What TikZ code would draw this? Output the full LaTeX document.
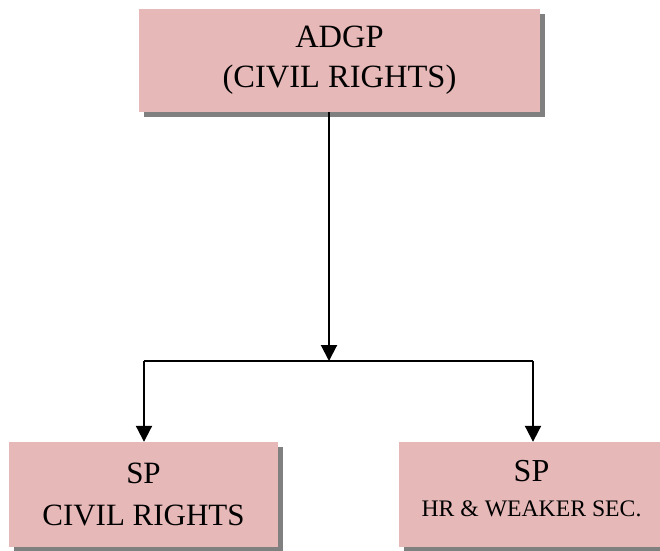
\documentclass[tikz,border=0pt]{standalone}
\usepackage{fontspec}
\setmainfont{Liberation Serif}
\usetikzlibrary{arrows.meta,shadows}
\definecolor{boxpink}{HTML}{E6B8B7}
\definecolor{shadowgray}{HTML}{808080}
\tikzset{
  orgbox/.style={fill=boxpink, draw=none, inner sep=0pt, align=center,
    drop shadow={shadow xshift=5pt, shadow yshift=-5pt, fill=shadowgray, opacity=1}},
  conn/.style={line width=2pt, draw=black},
  arr/.style={conn, -{Triangle[width=16pt,length=16pt]}}
}
\begin{document}
\begin{tikzpicture}[x=1pt,y=-1pt]
\useasboundingbox (0,0) rectangle (660,550);
\node[orgbox, minimum width=401pt, minimum height=103pt,
  font={\fontsize{32.5pt}{40pt}\selectfont}] (top) at (339.5,60.5)
  {ADGP\\(CIVIL RIGHTS)};
\node[orgbox, minimum width=269pt, minimum height=105pt,
  font={\fontsize{31pt}{42pt}\selectfont}] (left) at (143.5,494.5)
  {SP\\CIVIL RIGHTS};
\node[orgbox, minimum width=265pt, minimum height=105pt] (right) at (531.5,494.5) {};
\node[align=center, inner sep=0pt, font={\fontsize{32pt}{35pt}\selectfont}]
  (righttext) at (531.5,488.5)
  {SP\\[0pt]{\fontsize{23.7pt}{26pt}\selectfont HR \& WEAKER SEC.}};
\coordinate (jn) at (329,361);
\coordinate (jl) at (144,361);
\coordinate (jr) at (533,361);
\draw[arr] (top.south -| jn) -- (jn);
\draw[conn] (jl) -- (jr);
\draw[arr] (jl) -- (jl |- left.north);
\draw[arr] (jr) -- (jr |- right.north);
\end{tikzpicture}
\end{document}
